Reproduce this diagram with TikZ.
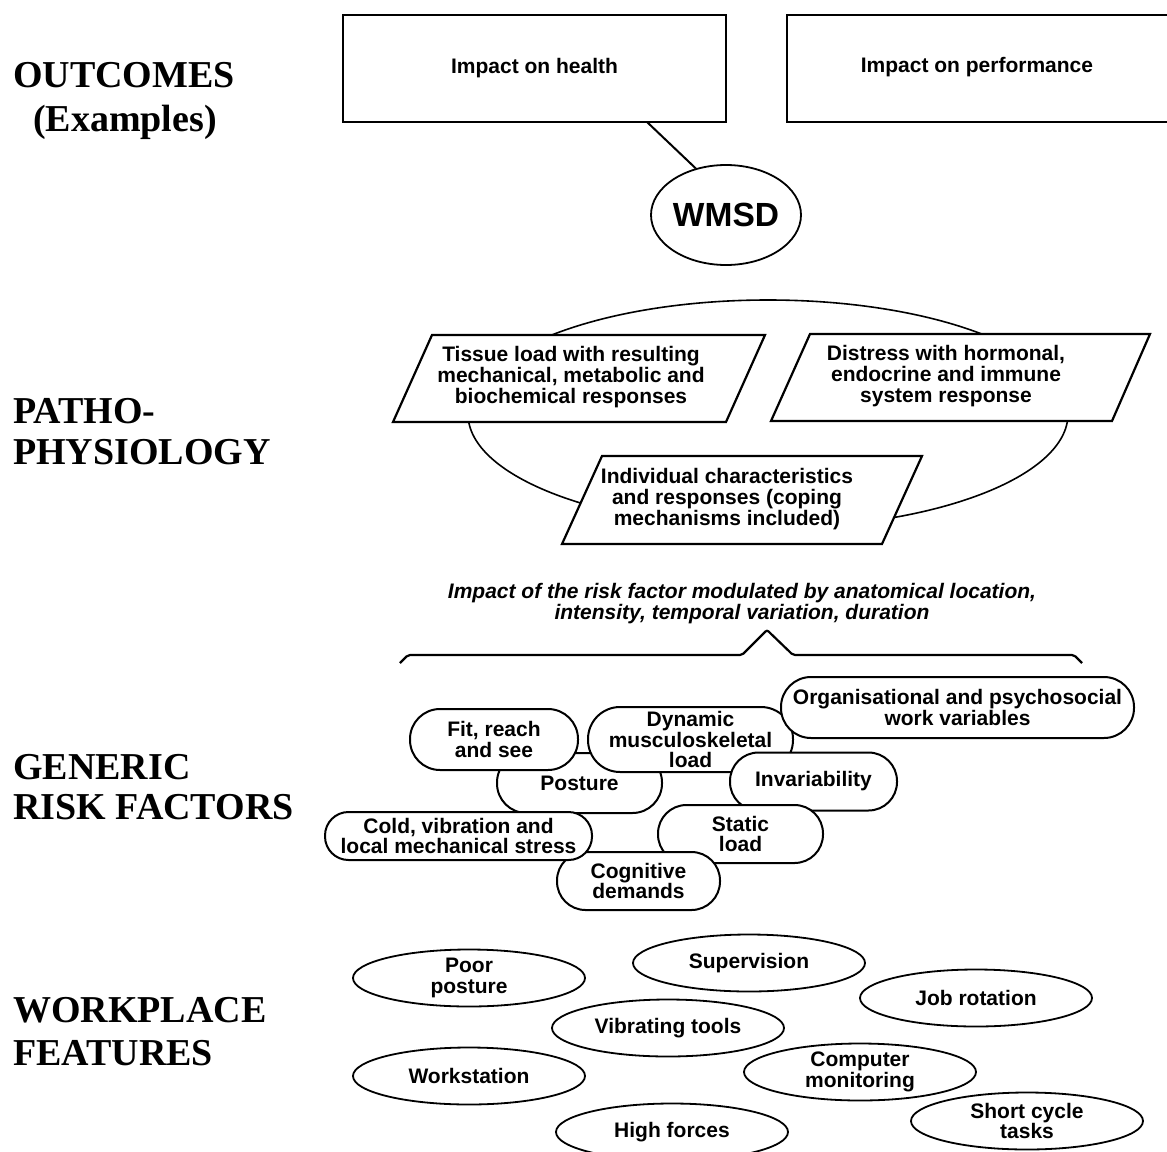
\documentclass[tikz,border=0pt]{standalone}
\usepackage{fontspec}
\setmainfont{Liberation Serif}
\newfontfamily\sansf{Liberation Sans}
\usetikzlibrary{shapes.geometric}
\begin{document}
\begin{tikzpicture}[x=1pt,y=-1pt,
  bt/.style={font=\sansf\bfseries\fontsize{21}{20.6}\selectfont, align=center, inner sep=0pt},
  lab/.style={font=\bfseries\fontsize{38}{38}\selectfont, inner sep=0pt},
  outbox/.style={draw, line width=2.2pt, rectangle, minimum height=107pt, inner sep=0pt},
  para/.style={draw, line width=2.2pt, fill=white, line join=miter},
  stad/.style n args={3}{draw, line width=2pt, fill=white, rectangle, minimum width=#1pt, minimum height=#2pt, rounded corners=#3pt, bt},
  wp/.style={draw, ellipse, line width=1.8pt, minimum width=232pt, minimum height=57pt, inner sep=0pt, bt}]
\useasboundingbox (0,0) rectangle (1167,1151);
\clip (0,0) rectangle (1167,1151);

% left labels
\node[lab, anchor=base west] (l1) at (13,87.5) {OUTCOMES};
\node[lab, anchor=base] (l2) at (125,131) {(Examples)};
\node[lab, anchor=base west] (l3) at (13,423) {PATHO-};
\node[lab, anchor=base west] (l4) at (13,464) {PHYSIOLOGY};
\node[lab, anchor=base west] (l5) at (13,779) {GENERIC};
\node[lab, anchor=base west] (l6) at (13,819) {RISK FACTORS};
\node[lab, anchor=base west] (l7) at (13,1022) {WORKPLACE};
\node[lab, anchor=base west] (l8) at (13,1065) {FEATURES};

% outcomes
\node[outbox, minimum width=383pt, bt] (health) at (534.5,68.5) {Impact on health};
\node[outbox, minimum width=400pt] (perf) at (987,68.5) {};
\node[bt] (perft) at (977,67) {Impact on performance};
\node[draw, ellipse, line width=1.8pt, minimum width=148pt, minimum height=100pt, inner sep=0pt,
      font=\sansf\bfseries\fontsize{33.5}{33.5}\selectfont] (wmsd) at (726,215) {WMSD};
\coordinate (hb) at (647,122);
\draw[line width=2pt] (hb) -- (wmsd.123);

% pathophysiology
\node[draw, ellipse, line width=1.6pt, minimum width=600pt, minimum height=228pt, inner sep=0pt] (patho) at (768,414) {};
\draw[para] (432,335) -- (765,335) -- (726,422) -- (393,422) -- cycle;
\node[bt] (tissue) at (571,377) {Tissue load with resulting\\mechanical, metabolic and\\biochemical responses};
\draw[para] (810,334) -- (1150,334) -- (1112,421) -- (771,421) -- cycle;
\node[bt] (distress) at (946,376) {Distress with hormonal,\\endocrine and immune\\system response};
\draw[para] (602,456) -- (922,456) -- (882,544) -- (562,544) -- cycle;
\node[bt] (indiv) at (727,499) {Individual characteristics\\and responses (coping\\mechanisms included)};

% modulation text and brace
\node[font=\sansf\bfseries\itshape\fontsize{21}{21}\selectfont, align=center, inner sep=0pt] (impact) at (742,604)
  {Impact of the risk factor modulated by anatomical location,\\intensity, temporal variation, duration};
\coordinate (bl) at (400,663);
\coordinate (br) at (1082,663);
\draw[line width=2.2pt, rounded corners=2pt] (bl) -- (408,655) -- (742,655) -- (767,630) -- (793,655) -- (1074,655) -- (br);

% generic risk factors
\node[stad={165}{60}{29.5}] (posture) at (579.5,783) {Posture};
\node[stad={168}{61}{30}] (fit) at (494,739.5) {Fit, reach\\and see};
\node[stad={205}{65}{32}] (dyn) at (690.5,739.5) {Dynamic\\musculoskeletal\\load};
\node[stad={353}{61}{30}] (org) at (957.5,707.5) {Organisational and psychosocial\\work variables};
\node[stad={167}{58}{28.5}] (invar) at (813.5,781.5) {Invariability};
\node[stad={165}{58}{28.5}] (static) at (740.5,834) {Static\\load};
\node[stad={163}{58}{28.5}] (cogn) at (638.5,881) {Cognitive\\demands};
\node[stad={267}{48}{23.5}] (cold) at (458.5,836) {Cold, vibration and\\local mechanical stress};

% workplace features
\node[wp] (poor) at (469,978) {Poor\\posture};
\node[wp] (superv) at (749,963) {Supervision};
\node[wp] (jobrot) at (976,998) {Job rotation};
\node[wp] (vibr) at (668,1028) {Vibrating tools};
\node[wp] (works) at (469,1076) {Workstation};
\node[wp] (compmon) at (860,1072) {Computer\\monitoring};
\node[wp] (short) at (1027,1121) {Short cycle\\tasks};
\node[wp] (high) at (672,1132) {High forces};
\end{tikzpicture}
\end{document}
